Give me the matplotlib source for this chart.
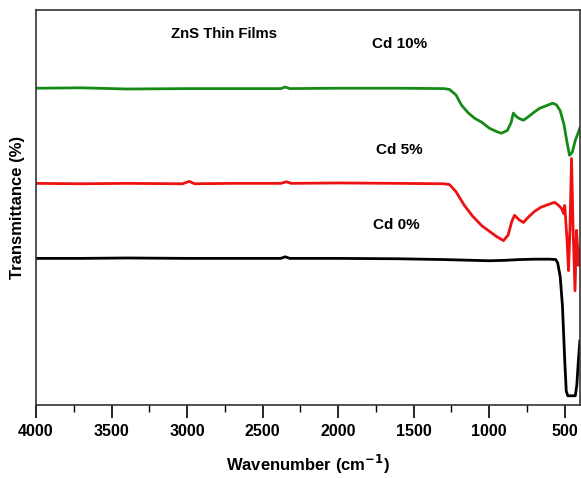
import numpy as np
import matplotlib
matplotlib.use("Agg")
import matplotlib.pyplot as plt
from matplotlib.ticker import MultipleLocator

plt.rcParams['font.family'] = ['Liberation Sans', 'DejaVu Sans']
plt.rcParams['font.weight'] = 'bold'

# wavenumber (cm-1) and transmittance (arbitrary offset units)
wn_cd10 = [4000, 3700, 3400, 3000, 2700, 2380, 2350, 2320, 2000, 1600, 1300, 1263,
           1220, 1183, 1140, 1097, 1050, 1000, 950, 920, 880, 855, 840, 820, 800,
           773, 740, 700, 667, 620, 580, 555, 530, 505, 485, 468, 450, 430, 415, 400]
t_cd10 = [80.2, 80.3, 80.0, 80.1, 80.1, 80.1, 80.5, 80.1, 80.2, 80.2, 80.1, 79.9,
          78.5, 75.9, 74.0, 72.6, 71.6, 70.1, 69.2, 68.8, 69.5, 71.5, 73.9, 73.0, 72.5,
          72.1, 73.0, 74.2, 75.1, 75.8, 76.4, 76.0, 74.5, 71.0, 66.5, 63.2, 64.0, 67.0, 68.5, 70.1]

wn_cd5 = [4000, 3700, 3400, 3030, 2986, 2950, 2700, 2380, 2343, 2310, 2000, 1600,
          1300, 1263, 1220, 1164, 1110, 1050, 1000, 950, 905, 875, 850, 832, 800,
          773, 740, 700, 660, 620, 567, 540, 520, 508, 500, 485, 475, 465, 455, 445,
          432, 422, 415, 408, 400]
t_cd5 = [56.1, 56.0, 56.1, 56.0, 56.6, 56.0, 56.1, 56.1, 56.5, 56.1, 56.2, 56.1,
         56.0, 55.8, 54.0, 50.5, 47.8, 45.4, 44.0, 42.6, 41.6, 43.0, 46.5, 48.0, 46.8,
         46.2, 47.6, 49.0, 50.0, 50.6, 51.3, 50.5, 49.7, 48.5, 50.5, 42.0, 34.0, 45.0, 62.4, 45.0,
         28.9, 44.2, 40.0, 35.3, 39.1]

wn_cd0 = [4000, 3700, 3400, 3000, 2700, 2380, 2350, 2320, 2000, 1600, 1300, 1000,
          900, 800, 700, 600, 560, 547, 530, 515, 500, 490, 480, 440, 430, 420, 410, 400]
t_cd0 = [37.1, 37.1, 37.2, 37.1, 37.1, 37.1, 37.5, 37.1, 37.1, 37.0, 36.8, 36.5,
         36.6, 36.8, 36.9, 36.9, 36.8, 36.0, 32.5, 25.0, 11.2, 3.5, 2.3, 2.3, 2.3, 5.0, 11.0, 16.2]

series = [
    (wn_cd10, t_cd10, '#168a16'),
    (wn_cd5, t_cd5, '#ee1111'),
    (wn_cd0, t_cd0, 'black'),
]
labels = [('Cd 10%', 1594, 91.5), ('Cd 5%', 1594, 64.5), ('Cd 0%', 1614, 45.5)]

fig = plt.figure(figsize=(5.81, 4.78), dpi=100)
ax = fig.add_axes([0.062, 0.153, 0.936, 0.826])

for wn, t, c in series:
    ax.plot(wn, t, color=c, lw=2.0, solid_joinstyle='round')

ax.set_xlim(4000, 400)
ax.set_ylim(0, 100)
ax.xaxis.set_major_locator(MultipleLocator(500))
ax.xaxis.set_minor_locator(MultipleLocator(250))
ax.tick_params(axis='x', which='major', direction='out', length=9, width=1.2,
               labelsize=11.5, pad=5)
ax.tick_params(axis='x', which='minor', direction='out', length=5, width=1.0)
ax.set_yticks([])
for s in ax.spines.values():
    s.set_linewidth(1.2)
    s.set_color('#333333')

ax.text(2754, 94, 'ZnS Thin Films', fontsize=10.7, fontweight='bold', ha='center', va='center')
for txt, x, y in labels:
    ax.text(x, y, txt, fontsize=11, fontweight='bold', ha='center', va='center')

ax.set_xlabel('Wavenumber (cm$^{\\mathbf{-1}}$)', fontsize=12, fontweight='bold', labelpad=10)
ax.set_ylabel('Transmittance (%)', fontsize=12, fontweight='bold', labelpad=8)

fig.savefig('out.png', dpi=100)
